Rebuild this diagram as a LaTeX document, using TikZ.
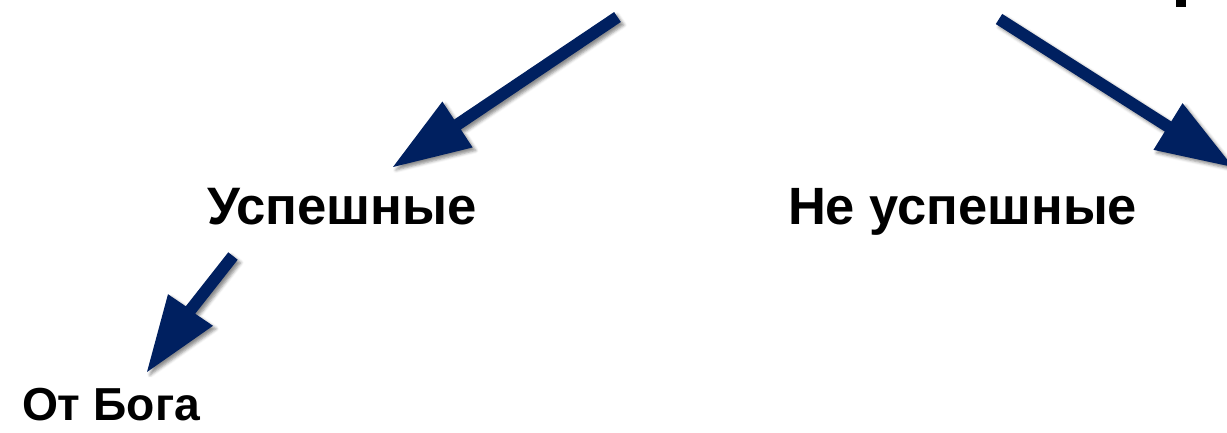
\documentclass[tikz,border=0pt]{standalone}
\usepackage{fontspec}
\setmainfont{Liberation Sans}
\usepackage{graphicx}
\usetikzlibrary{calc,shadows.blur}
\definecolor{navy}{RGB}{0,32,96}
\newcommand\myarrow[3]{%
  \fill[navy, blur shadow={shadow xshift=3pt, shadow yshift=-3pt, shadow blur radius=3pt, shadow opacity=45}]
    ($(#1)!6pt!-90:(#2)$) -- ($(#2)!6pt!90:(#1)$) -- ($(#2)!27.5pt!-90:(#3)$) -- (#3)
    -- ($(#2)!27.5pt!90:(#3)$) -- ($(#2)!6pt!-90:(#1)$) -- ($(#1)!6pt!90:(#2)$) -- cycle;}
\begin{document}
\begin{tikzpicture}[x=1pt,y=-1pt,
  lbl/.style={inner sep=0pt, outer sep=0pt, anchor=base west, font=\bfseries}]
\useasboundingbox (0,0) rectangle (1227,432);
% arrow 1
\coordinate (s1) at (617.5,17);
\coordinate (m1) at (457.5,124.5);
\coordinate (t1) at (393,167);
% arrow 2
\coordinate (s2) at (999,19);
\coordinate (m2) at (1168,126.5);
\coordinate (t2) at (1233,167);
% arrow 3
\coordinate (s3) at (233,256);
\coordinate (m3) at (190.5,310);
\coordinate (t3) at (147,372);
\myarrow{s1}{m1}{t1}
\myarrow{s2}{m2}{t2}
\myarrow{s3}{m3}{t3}
% cut-off glyph at top right
\fill[black] (1176,0) rectangle (1186,7);
\node[lbl] (usp) at (207,224) {\resizebox{270pt}{!}{Успешные}};
\node[lbl] (neusp) at (788,224) {\resizebox{349pt}{!}{Не успешные}};
\node[lbl] (bog) at (22,420) {\resizebox{178pt}{!}{От Бога}};
\end{tikzpicture}
\end{document}
